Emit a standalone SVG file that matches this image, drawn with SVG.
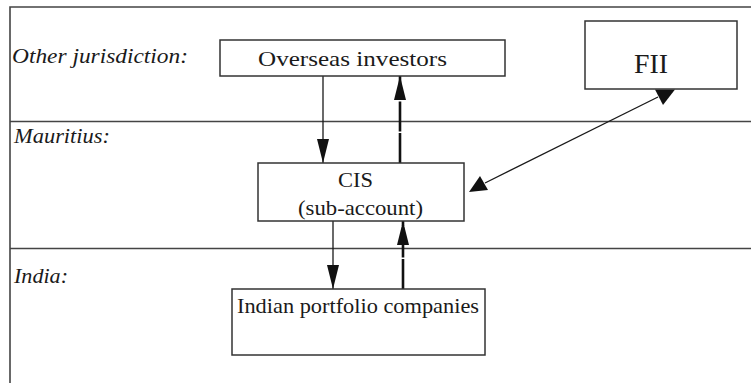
<svg xmlns="http://www.w3.org/2000/svg" width="751" height="383" viewBox="0 0 751 383">
  <style>
    .frame { stroke: #444; stroke-width: 1.6; fill: none; }
    .box { fill: #fff; stroke: #333; stroke-width: 1.5; }
    .label { font-family: "Liberation Serif", "Times New Roman", serif; font-size: 22px; fill: #1a1a1a; }
    .zone { font-family: "Liberation Serif", "Times New Roman", serif; font-style: italic; font-size: 22px; fill: #1a1a1a; }
    .flow { stroke: #1a1a1a; stroke-width: 1.3; fill: none; }
    .back { stroke: #111; stroke-width: 2.6; fill: none; stroke-dasharray: 30 1.5; }
    .head { fill: #111; stroke: none; }
  </style>
  <defs>
    <marker id="tip" markerUnits="userSpaceOnUse" viewBox="0 0 24 12" refX="24" refY="6" markerWidth="24" markerHeight="12" orient="auto">
      <path d="M0,0 L24,6 L0,12 Z" fill="#111"/>
    </marker>
  </defs>

  <rect width="751" height="383" fill="#fff"/>

  <!-- jurisdiction bands -->
  <g id="bands">
    <path class="frame" d="M10,383 V7 H751"/>
    <line class="frame" x1="10" y1="121.5" x2="751" y2="121.5"/>
    <line class="frame" x1="10" y1="248.5" x2="751" y2="248.5"/>
    <text class="zone" x="12" y="63" textLength="176" lengthAdjust="spacingAndGlyphs">Other jurisdiction:</text>
    <text class="zone" x="14" y="143" textLength="96" lengthAdjust="spacingAndGlyphs">Mauritius:</text>
    <text class="zone" x="14" y="283" textLength="54" lengthAdjust="spacingAndGlyphs">India:</text>
  </g>

  <!-- connectors -->
  <g id="connectors">
    <line class="flow" x1="323" y1="76" x2="323" y2="163" marker-end="url(#tip)"/>
    <line class="back" x1="400" y1="163" x2="400" y2="76" marker-end="url(#tip)"/>
    <line class="flow" x1="333" y1="221" x2="333" y2="289" marker-end="url(#tip)"/>
    <line class="back" x1="403" y1="289" x2="403" y2="221" marker-end="url(#tip)"/>
    <line class="flow" x1="485" y1="183" x2="658" y2="97"/>
    <polygon class="head" points="655,89.5 675,89.5 663,105"/>
    <polygon class="head" points="480,176 469,192 488,190"/>
  </g>

  <g id="overseas-investors">
    <rect class="box" x="220" y="40" width="285" height="36"/>
    <text class="label" x="258" y="66" textLength="189" lengthAdjust="spacingAndGlyphs">Overseas investors</text>
  </g>

  <g id="fii">
    <rect class="box" x="585" y="21" width="152" height="68"/>
    <text class="label" x="634" y="73" style="font-size:28px" textLength="34" lengthAdjust="spacingAndGlyphs">FII</text>
  </g>

  <g id="cis">
    <rect class="box" x="258" y="163" width="206" height="58"/>
    <text class="label" x="338" y="187" textLength="35" lengthAdjust="spacingAndGlyphs">CIS</text>
    <text class="label" x="298" y="215" textLength="125" lengthAdjust="spacingAndGlyphs">(sub-account)</text>
  </g>

  <g id="indian-portfolio-companies">
    <rect class="box" x="232" y="289" width="253" height="66"/>
    <text class="label" x="237" y="313" textLength="242" lengthAdjust="spacingAndGlyphs">Indian portfolio companies</text>
  </g>
</svg>
